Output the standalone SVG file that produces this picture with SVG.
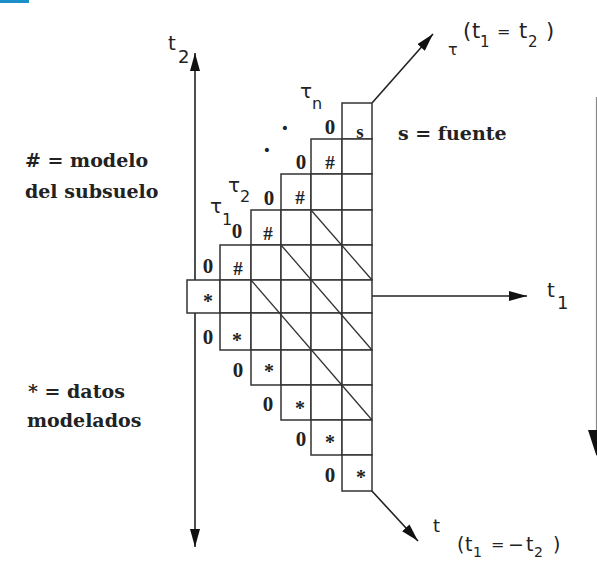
<svg xmlns="http://www.w3.org/2000/svg" width="597" height="561" viewBox="0 0 597 561">
<style>
.cell{fill:#fff;stroke:#333;stroke-width:1.5}
.diag{stroke:#333;stroke-width:1.3;fill:none}
.axis{stroke:#222;stroke-width:1.6;fill:none}
.lbl{font-family:"Liberation Serif",serif;font-weight:bold;fill:#222;text-anchor:middle}
.z{font-size:21px}
.h{font-size:19px}
.st{font-size:20px}
.leg{font-family:"DejaVu Serif",serif;font-weight:bold;font-size:19px;fill:#222}
.sym{font-family:"DejaVu Sans",sans-serif;fill:#222}
</style>
<defs>
<marker id="ah" viewBox="0 0 18 10" refX="18" refY="5" markerWidth="18" markerHeight="10" markerUnits="userSpaceOnUse" orient="auto-start-reverse">
<path d="M0,0 L18,5 L0,10 z" fill="#111"/>
</marker>
</defs>
<rect x="0" y="0" width="29" height="3" fill="#1a8fc8"/>

<g id="connectors">
<line class="axis" x1="195" y1="53" x2="195" y2="547" marker-start="url(#ah)" marker-end="url(#ah)"/>
<line class="axis" x1="372" y1="296" x2="527" y2="296" marker-end="url(#ah)"/>
<line class="axis" x1="372" y1="103" x2="433" y2="34" marker-end="url(#ah)"/>
<line class="axis" x1="371" y1="490" x2="418" y2="541" marker-end="url(#ah)"/>
<line x1="596.5" y1="97" x2="596.5" y2="432" stroke="#888" stroke-width="1.2"/>
<polygon points="588,430 605,430 596.5,456" fill="#111"/>
</g>

<g id="grid">
<g id="row0"><rect class="cell" x="342" y="103" width="30" height="36"/></g>
<g id="row1"><rect class="cell" x="311" y="139" width="31" height="35"/><rect class="cell" x="342" y="139" width="30" height="35"/></g>
<g id="row2"><rect class="cell" x="281" y="174" width="30" height="36"/><rect class="cell" x="311" y="174" width="31" height="36"/><rect class="cell" x="342" y="174" width="30" height="36"/></g>
<g id="row3"><rect class="cell" x="251" y="210" width="30" height="35"/><rect class="cell" x="281" y="210" width="30" height="35"/><rect class="cell" x="311" y="210" width="31" height="35"/><rect class="cell" x="342" y="210" width="30" height="35"/></g>
<g id="row4"><rect class="cell" x="220" y="245" width="31" height="35"/><rect class="cell" x="251" y="245" width="30" height="35"/><rect class="cell" x="281" y="245" width="30" height="35"/><rect class="cell" x="311" y="245" width="31" height="35"/><rect class="cell" x="342" y="245" width="30" height="35"/></g>
<g id="row5"><rect class="cell" x="187" y="280" width="33" height="33"/><rect class="cell" x="220" y="280" width="31" height="33"/><rect class="cell" x="251" y="280" width="30" height="33"/><rect class="cell" x="281" y="280" width="30" height="33"/><rect class="cell" x="311" y="280" width="31" height="33"/><rect class="cell" x="342" y="280" width="30" height="33"/></g>
<g id="row6"><rect class="cell" x="220" y="313" width="31" height="37"/><rect class="cell" x="251" y="313" width="30" height="37"/><rect class="cell" x="281" y="313" width="30" height="37"/><rect class="cell" x="311" y="313" width="31" height="37"/><rect class="cell" x="342" y="313" width="30" height="37"/></g>
<g id="row7"><rect class="cell" x="251" y="350" width="30" height="35"/><rect class="cell" x="281" y="350" width="30" height="35"/><rect class="cell" x="311" y="350" width="31" height="35"/><rect class="cell" x="342" y="350" width="30" height="35"/></g>
<g id="row8"><rect class="cell" x="281" y="385" width="30" height="35"/><rect class="cell" x="311" y="385" width="31" height="35"/><rect class="cell" x="342" y="385" width="30" height="35"/></g>
<g id="row9"><rect class="cell" x="311" y="420" width="31" height="35"/><rect class="cell" x="342" y="420" width="30" height="35"/></g>
<g id="row10"><rect class="cell" x="342" y="455" width="30" height="36"/></g>
<g id="diagonals">
<line class="diag" x1="251" y1="280" x2="372" y2="420"/>
<line class="diag" x1="281" y1="245" x2="372" y2="350"/>
<line class="diag" x1="311" y1="210" x2="372" y2="280"/>
</g>
</g>

<g id="cell-labels">
<text class="lbl" x="360" y="138" font-size="19">s</text>
<text class="lbl h" x="330" y="169">#</text>
<text class="lbl h" x="300" y="204">#</text>
<text class="lbl h" x="268" y="240">#</text>
<text class="lbl h" x="238" y="275">#</text>
<text class="lbl st" x="208" y="308">*</text>
<text class="lbl st" x="237" y="347">*</text>
<text class="lbl st" x="269" y="378">*</text>
<text class="lbl st" x="300" y="415">*</text>
<text class="lbl st" x="330" y="449">*</text>
<text class="lbl st" x="361" y="484">*</text>
</g>

<g id="zeros">
<text class="lbl z" x="330" y="134">0</text>
<text class="lbl z" x="301" y="169">0</text>
<text class="lbl z" x="269" y="205">0</text>
<text class="lbl z" x="237" y="238">0</text>
<text class="lbl z" x="208" y="273">0</text>
<text class="lbl z" x="208" y="344">0</text>
<text class="lbl z" x="238" y="377">0</text>
<text class="lbl z" x="268" y="411">0</text>
<text class="lbl z" x="301" y="446">0</text>
<text class="lbl z" x="330" y="482">0</text>
</g>

<g id="ellipsis">
<text class="sym" x="285" y="133" font-size="14" text-anchor="middle">•</text>
<text class="sym" x="267" y="155" font-size="14" text-anchor="middle">•</text>
</g>

<g id="tau-labels" class="sym">
<text x="300" y="98" font-size="20">τ<tspan x="312" y="109" font-size="16">n</tspan></text>
<text x="228" y="192" font-size="20">τ<tspan x="240" y="202" font-size="16">2</tspan></text>
<text x="210" y="213" font-size="20">τ<tspan x="222" y="225" font-size="16">1</tspan></text>
</g>

<g id="axis-labels" class="sym">
<text x="168" y="50" font-size="20">t<tspan x="178" y="63" font-size="18">2</tspan></text>
<text x="547" y="297" font-size="20">t<tspan x="557" y="309" font-size="18">1</tspan></text>
<text x="448" y="55" font-size="16">τ</text>
<text font-size="21"><tspan x="463" y="38">(</tspan><tspan x="472" y="38">t</tspan><tspan x="480" y="47" font-size="15">1</tspan><tspan x="497" y="37" font-size="16">=</tspan><tspan x="519" y="38">t</tspan><tspan x="528" y="47" font-size="15">2</tspan><tspan x="546" y="38">)</tspan></text>
<text x="433" y="532" font-size="18">t</text>
<text font-size="19"><tspan x="457" y="551">(</tspan><tspan x="465" y="551">t</tspan><tspan x="473" y="557" font-size="14">1</tspan><tspan x="491" y="550" font-size="16">=</tspan><tspan x="508" y="551">−</tspan><tspan x="526" y="551">t</tspan><tspan x="534" y="557" font-size="14">2</tspan><tspan x="553" y="551">)</tspan></text>
</g>

<g id="legend">
<text class="leg" x="25" y="167"># = modelo</text>
<text class="leg" x="25" y="198">del subsuelo</text>
<text class="leg" x="28" y="398">* = datos</text>
<text class="leg" x="27" y="427">modelados</text>
<text class="leg" x="398" y="140">s = fuente</text>
</g>
</svg>
